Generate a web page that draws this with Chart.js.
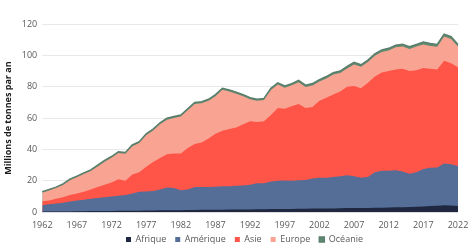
<!DOCTYPE html>
<html>
<head>
<meta charset="utf-8">
<script src="https://cdn.jsdelivr.net/npm/chart.js@4/dist/chart.umd.min.js"></script>
<style>
  html, body { margin: 0; padding: 0; background: #fff; }
  #wrap { width: 474px; height: 248px; }
</style>
</head>
<body>
<div id="wrap"><canvas id="myChart"></canvas></div>
<script>
const years = [];
for (let y = 1962; y <= 2022; y++) years.push(String(y));

const afrique = [
  0.4, 0.4, 0.5, 0.5, 0.5, 0.6, 0.6, 0.7, 0.7, 0.8,
  0.8, 0.9, 0.9, 1.0, 1.0, 1.1, 1.1, 1.2, 1.3, 1.3,
  1.3, 1.4, 1.4, 1.5, 1.5, 1.6, 1.6, 1.7, 1.7, 1.8,
  1.8, 1.9, 1.9, 2.0, 2.0, 2.1, 2.1, 2.2, 2.2, 2.3,
  2.3, 2.4, 2.4, 2.5, 2.6, 2.6, 2.6, 2.7, 2.8, 2.9,
  3.0, 3.1, 3.2, 3.3, 3.5, 3.7, 3.9, 4.1, 4.4, 4.2,
  4.0,
];

const amerique = [
  4.1, 4.6, 5.0, 5.5, 6.3, 6.9, 7.4, 7.8, 8.3, 8.7,
  9.2, 9.6, 10.1, 11.0, 12.0, 12.1, 12.4, 13.3, 14.5, 14.2,
  12.7, 13.1, 14.6, 14.5, 14.5, 14.6, 14.9, 14.9, 15.1, 15.2,
  15.7, 16.6, 16.6, 17.5, 18.0, 18.1, 17.9, 18.1, 18.3, 19.2,
  19.7, 19.6, 20.1, 20.5, 20.9, 20.4, 19.4, 19.8, 22.7, 23.6,
  23.5, 23.7, 22.8, 21.2, 22.0, 23.8, 24.4, 24.4, 26.6, 26.3,
  25.5,
];

const asie = [
  2.5, 2.5, 3.0, 3.5, 4.2, 4.5, 5.0, 6.0, 7.0, 8.0,
  9.0, 10.5, 9.0, 12.0, 12.5, 15.8, 18.5, 20.0, 21.2, 22.0,
  23.5, 26.5, 27.5, 28.5, 31.0, 33.8, 35.5, 36.4, 37.2, 39.0,
  40.5, 39.0, 39.5, 42.5, 46.5, 45.8, 47.5, 48.7, 46.0, 45.5,
  49.0, 51.0, 52.5, 54.0, 56.5, 57.5, 57.0, 60.0, 61.0, 62.5,
  63.5, 64.2, 65.5, 65.5, 65.0, 64.5, 63.2, 62.5, 65.5, 64.5,
  63.0,
];

const europe = [
  5.4, 6.4, 6.9, 7.9, 9.3, 10.3, 11.3, 11.8, 13.2, 14.7,
  15.7, 16.7, 17.2, 18.1, 18.6, 20.1, 20.1, 21.6, 22.0, 22.5,
  23.5, 24.0, 25.5, 25.0, 24.0, 24.0, 26.0, 24.0, 21.5, 18.0,
  14.0, 13.5, 13.5, 15.9, 14.9, 13.4, 13.4, 13.9, 13.4, 13.8,
  12.3, 12.3, 12.8, 11.8, 11.7, 13.7, 13.7, 13.2, 13.2, 13.1,
  13.1, 14.1, 14.1, 14.1, 15.1, 15.0, 14.5, 14.5, 15.5, 15.5,
  13.1,
];

const oceanie = [
  0.6, 0.6, 0.6, 0.6, 0.7, 0.7, 0.7, 0.7, 0.8, 0.8,
  0.8, 0.8, 0.8, 0.9, 0.9, 0.9, 0.9, 0.9, 1.0, 1.0,
  1.0, 1.0, 1.0, 1.0, 1.0, 1.0, 1.0, 1.0, 1.0, 1.0,
  1.0, 1.0, 1.0, 1.1, 1.1, 1.1, 1.1, 1.1, 1.1, 1.2,
  1.2, 1.2, 1.2, 1.2, 1.3, 1.3, 1.3, 1.3, 1.3, 1.4,
  1.4, 1.4, 1.4, 1.4, 1.4, 1.5, 1.5, 1.5, 1.5, 1.5,
  1.4,
];

const textColor = "#595959";
const fontFamily = "'Open Sans', 'DejaVu Sans', sans-serif";

function area(label, data, color, border, width) {
  return {
    label: label,
    data: data,
    backgroundColor: color,
    borderColor: border || color,
    borderWidth: width || 0,
    fill: true,
    pointRadius: 0,
    tension: 0,
  };
}

// nudge the legend so it sits under the middle of the plot
const legendShift = {
  id: "legendShift",
  afterLayout(chart) {
    chart.legend.left += 14;
    chart.legend.right += 14;
    chart.legend.top -= 5;
    chart.legend.bottom -= 5;
  },
};

const ctx = document.getElementById("myChart").getContext("2d");

const myChart = new Chart(ctx, {
  type: "line",
  data: {
    labels: years,
    datasets: [
      area("Afrique", afrique, "#1f2840"),
      area("Amérique", amerique, "#556e98"),
      area("Asie", asie, "#ff5448"),
      area("Europe", europe, "#f9a493"),
      area("Océanie", oceanie, "#5e8a72", "#5b7f6b", 1.5),
    ],
  },
  plugins: [legendShift],
  options: {
    responsive: true,
    maintainAspectRatio: false,
    animation: false,
    layout: { padding: { top: 24, right: 16, left: 3, bottom: -11 } },
    plugins: {
      tooltip: { enabled: false },
      legend: {
        position: "bottom",
        labels: {
          color: textColor,
          font: { family: fontFamily, size: 9 },
          boxWidth: 5,
          boxHeight: 5,
          padding: 9,
        },
      },
    },
    scales: {
      x: {
        grid: { display: false },
        border: { display: false },
        ticks: {
          color: textColor,
          font: { family: fontFamily, size: 9 },
          autoSkip: false,
          maxRotation: 0,
          padding: 0,
          callback: function (value, index) {
            return index % 5 === 0 ? years[index] : null;
          },
        },
      },
      y: {
        stacked: true,
        min: 0,
        max: 120,
        grid: { color: "#e8e8e8", drawTicks: false },
        border: { display: false },
        ticks: {
          stepSize: 20,
          color: textColor,
          font: { family: fontFamily, size: 9 },
          padding: 5,
        },
        title: {
          display: true,
          text: "Millions de tonnes par an",
          color: "#1a1a1a",
          font: { family: fontFamily, size: 9, weight: "bold" },
          padding: { top: 0, bottom: 3 },
        },
      },
    },
  },
});
</script>
</body>
</html>
